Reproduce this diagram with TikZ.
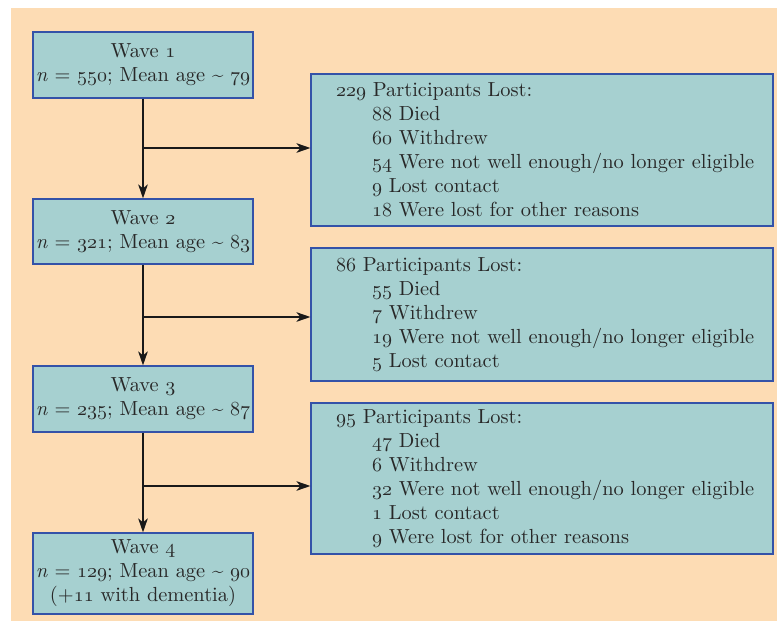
\documentclass[tikz,border=0pt]{standalone}
\usetikzlibrary{arrows.meta}

% colours of the chart
\definecolor{pagepeach}{RGB}{253,220,180}
\definecolor{boxfill}{RGB}{166,208,208}
\definecolor{boxline}{RGB}{52,82,168}
\definecolor{inkgray}{RGB}{40,40,40}

% old-style figures taken from the math italic font
\newcommand{\osf}[1]{{\usefont{OML}{cmm}{m}{it}#1}}
% left margins of the heading and of the itemised lines
\newcommand{\hd}{\hspace*{12.5pt}}
\newcommand{\ind}{\hspace*{30.5pt}}

\tikzset{
  chartbox/.style={draw=boxline, line width=0.6pt, fill=boxfill,
    text=inkgray, inner sep=0pt,
    font=\fontsize{10.2}{12}\selectfont},
  wavebox/.style={chartbox, minimum width=110pt, align=center},
  lostbox/.style={chartbox, minimum width=231pt, text width=231pt,
    align=left},
  flow/.style={draw=black!90, line width=0.65pt,
    -{Stealth[length=7pt, width=4.8pt, inset=2pt]}},
}

\begin{document}
\begin{tikzpicture}[x=0.5pt, y=-0.5pt]
  % page with its white margins
  \useasboundingbox (0,0) rectangle (777,621);
  \fill[pagepeach] (11,8) rectangle (777,621);

  % waves
  \node[wavebox, minimum height=33pt] (w1) at (143,65)
    {Wave \osf{1}\\ \textit{n} = \osf{550}; Mean age \textasciitilde{} \osf{79}};
  \node[wavebox, minimum height=32.5pt] (w2) at (143,231.5)
    {Wave \osf{2}\\ \textit{n} = \osf{321}; Mean age \textasciitilde{} \osf{83}};
  \node[wavebox, minimum height=33pt] (w3) at (143,399)
    {Wave \osf{3}\\ \textit{n} = \osf{235}; Mean age \textasciitilde{} \osf{87}};
  \node[wavebox, minimum height=40.5pt] (w4) at (143,573.5)
    {Wave \osf{4}\\ \textit{n} = \osf{129}; Mean age \textasciitilde{} \osf{90}\\ (+\osf{11} with dementia)};

  % participants lost between waves
  \node[lostbox, minimum height=76pt] (l1) at (542,150)
    {\hd\osf{229} Participants Lost:\\
     \ind\osf{88} Died\\
     \ind\osf{60} Withdrew\\
     \ind\osf{54} Were not well enough/no longer eligible\\
     \ind\osf{9} Lost contact\\
     \ind\osf{18} Were lost for other reasons};
  \node[lostbox, minimum height=66.5pt] (l2) at (542,314.5)
    {\hd\osf{86} Participants Lost:\\
     \ind\osf{55} Died\\
     \ind\osf{7} Withdrew\\
     \ind\osf{19} Were not well enough/no longer eligible\\
     \ind\osf{5} Lost contact};
  \node[lostbox, minimum height=75.5pt] (l3) at (542,478.5)
    {\hd\osf{95} Participants Lost:\\
     \ind\osf{47} Died\\
     \ind\osf{6} Withdrew\\
     \ind\osf{32} Were not well enough/no longer eligible\\
     \ind\osf{1} Lost contact\\
     \ind\osf{9} Were lost for other reasons};

  % branching points on the main line
  \coordinate (b1) at (143,148);
  \coordinate (b2) at (143,317);
  \coordinate (b3) at (143,486);

  % connectors
  \draw[flow] (w1) -- (w2);
  \draw[flow] (w2) -- (w3);
  \draw[flow] (w3) -- (w4);
  \draw[flow] (b1) -- (b1 -| l1.west);
  \draw[flow] (b2) -- (b2 -| l2.west);
  \draw[flow] (b3) -- (b3 -| l3.west);
\end{tikzpicture}
\end{document}
